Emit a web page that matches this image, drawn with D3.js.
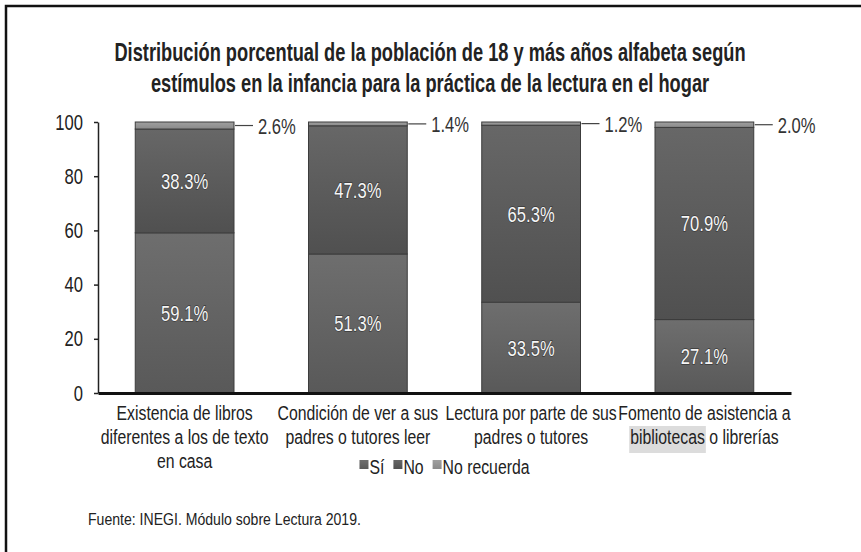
<!DOCTYPE html>
<html>
<head>
<meta charset="utf-8">
<script src="https://cdn.jsdelivr.net/npm/d3@7"></script>
<style>
  body { margin: 0; background: #fff; }
  svg text { font-family: "Liberation Sans", Arial, sans-serif; }
</style>
</head>
<body>
<div id="chart"></div>
<script>
const categories = [
  ["Existencia de libros", "diferentes a los de texto", "en casa"],
  ["Condición de ver a sus", "padres o tutores leer"],
  ["Lectura por parte de sus", "padres o tutores"],
  ["Fomento de asistencia a", "bibliotecas o librerías"]
];
const seriesNames = ["Sí", "No", "No recuerda"];
const si = [59.1, 51.3, 33.5, 27.1];
const no = [38.3, 47.3, 65.3, 70.9];
const noRecuerda = [2.6, 1.4, 1.2, 2.0];
const yTicks = [0, 20, 40, 60, 80, 100];
const title = [
  "Distribución porcentual de la población de 18 y más años alfabeta según",
  "estímulos en la infancia para la práctica de la lectura en el hogar"
];
const source = "Fuente: INEGI. Módulo sobre Lectura 2019.";

const width = 861, height = 552;
const margin = { left: 98, right: 70, top: 122, bottom: 159 };
const NARROW = 0.79; // no condensed font installed, squeeze Liberation Sans

// place a text at (x, y) squeezed horizontally
function narrowAt(sel, x, y, s) {
  return sel.attr("transform", function (d, i) {
    let xx = typeof x === "function" ? x(d, i) : x;
    let yy = typeof y === "function" ? y(d, i) : y;
    return "translate(" + xx + "," + yy + ") scale(" + (s || NARROW) + ",1.05)";
  });
}

let svg = d3.select("#chart").append("svg")
  .attr("width", width)
  .attr("height", height);

// gradients, one per series
const grads = [
  ["#6e6e6e", "#595959"],
  ["#676767", "#505050"],
  ["#a0a0a0", "#8a8a8a"]
];
let defs = svg.append("defs");
grads.forEach(function (g, i) {
  let lg = defs.append("linearGradient")
    .attr("id", "grad" + i)
    .attr("x1", 0).attr("y1", 0).attr("x2", 0).attr("y2", 1);
  lg.append("stop").attr("offset", "0%").attr("stop-color", g[0]);
  lg.append("stop").attr("offset", "100%").attr("stop-color", g[1]);
});

// frame
svg.append("rect")
  .attr("x", 6).attr("y", 6)
  .attr("width", 900).attr("height", 600)
  .attr("fill", "none")
  .attr("stroke", "#111")
  .attr("stroke-width", 2.5);

// title
svg.append("g").selectAll("text")
  .data(title)
  .join("text")
  .call(narrowAt, 430, (d, i) => 61 + i * 31, 0.76)
  .attr("text-anchor", "middle")
  .attr("font-size", "24px")
  .attr("font-weight", "bold")
  .attr("fill", "#222")
  .text(d => d);

let x = d3.scaleBand()
  .domain(d3.range(categories.length))
  .range([margin.left, width - margin.right])
  .paddingInner(0.43)
  .paddingOuter(0.215);

let y = d3.scaleLinear()
  .domain([0, 100])
  .range([height - margin.bottom, margin.top]);

let rows = categories.map(function (c, i) {
  return { i: i, "Sí": si[i], "No": no[i], "No recuerda": noRecuerda[i] };
});
let stacked = d3.stack().keys(seriesNames)(rows);

// bars
let layers = svg.append("g")
  .selectAll("g")
  .data(stacked)
  .join("g")
  .attr("fill", (d, i) => "url(#grad" + i + ")");

layers.selectAll("rect")
  .data(d => d)
  .join("rect")
  .attr("x", d => x(d.data.i))
  .attr("y", d => y(d[1]))
  .attr("width", x.bandwidth())
  .attr("height", d => y(d[0]) - y(d[1]))
  .attr("stroke", "#3c3c3c")
  .attr("stroke-width", 1);

// inner labels (Sí, No)
stacked.slice(0, 2).forEach(function (layer) {
  svg.append("g")
    .selectAll("text")
    .data(layer)
    .join("text")
    .call(narrowAt, d => x(d.data.i) + x.bandwidth() / 2, d => y((d[0] + d[1]) / 2) + 8)
    .attr("text-anchor", "middle")
    .attr("font-size", "21px")
    .attr("fill", "#f6f6f6")
    .attr("style", "paint-order: stroke; stroke: #3a3a3a; stroke-width: 1.2px;")
    .text(d => (d[1] - d[0]).toFixed(1) + "%");
});

// outer labels (No recuerda) with leader line
let topLabels = svg.append("g")
  .selectAll("g")
  .data(stacked[2])
  .join("g");
topLabels.append("line")
  .attr("x1", d => x(d.data.i) + x.bandwidth() + 1)
  .attr("x2", d => x(d.data.i) + x.bandwidth() + 19)
  .attr("y1", d => y((d[0] + d[1]) / 2))
  .attr("y2", d => y((d[0] + d[1]) / 2))
  .attr("stroke", "#444")
  .attr("stroke-width", 1.2);
topLabels.append("text")
  .call(narrowAt, d => x(d.data.i) + x.bandwidth() + 24, d => y((d[0] + d[1]) / 2) + 8)
  .attr("font-size", "21px")
  .attr("fill", "#333")
  .text(d => (d[1] - d[0]).toFixed(1) + "%");

// y axis
let yAxis = svg.append("g")
  .attr("transform", "translate(" + margin.left + ",0)")
  .call(d3.axisLeft(y).tickValues(yTicks).tickSizeInner(4).tickSizeOuter(0).tickPadding(11));
yAxis.select(".domain").attr("stroke", "#222").attr("stroke-width", 1.5);
yAxis.selectAll(".tick line").attr("stroke", "#222").attr("stroke-width", 1.5);
yAxis.selectAll(".tick text")
  .attr("font-size", "21px")
  .attr("font-family", null)
  .attr("fill", "#222")
  .attr("x", -15 / NARROW)
  .attr("transform", "scale(" + NARROW + ",1.05)");

// x axis
let xAxis = svg.append("g")
  .attr("transform", "translate(0," + y(0) + ")")
  .call(d3.axisBottom(x).tickSize(0).tickFormat(""));
xAxis.select(".domain").attr("stroke", "#111").attr("stroke-width", 3);

// category labels
let catG = svg.append("g");
categories.forEach(function (lines, i) {
  let cx = x(i) + x.bandwidth() / 2;
  lines.forEach(function (line, j) {
    let ly = 420 + j * 24;
    let t = catG.append("text")
      .call(narrowAt, cx, ly)
      .attr("text-anchor", "middle")
      .attr("font-size", "20px")
      .attr("fill", "#222")
      .text(line);
    // highlighted word from the original screenshot
    if (line.indexOf("bibliotecas") === 0) {
      let full = t.node().getComputedTextLength() * NARROW;
      let tmp = catG.append("text").attr("font-size", "20px").text("bibliotecas");
      let w = tmp.node().getComputedTextLength() * NARROW;
      tmp.remove();
      catG.insert("rect", "text")
        .attr("x", cx - full / 2 - 1)
        .attr("y", ly - 18)
        .attr("width", w + 2)
        .attr("height", 27)
        .attr("fill", "#dcdcdc");
    }
  });
});

// legend
let legend = svg.append("g");
let lx = 0;
seriesNames.forEach(function (name, i) {
  let item = legend.append("g").attr("transform", "translate(" + lx + ",0)");
  item.append("rect")
    .attr("x", 0).attr("y", -14)
    .attr("width", 9).attr("height", 9)
    .attr("fill", "url(#grad" + i + ")");
  let t = item.append("text")
    .call(narrowAt, 10, 0)
    .attr("font-size", "20px")
    .attr("fill", "#222")
    .text(name);
  lx += 10 + t.node().getComputedTextLength() * NARROW + 9;
});
let lw = lx - 9;
legend.attr("transform", "translate(" + ((margin.left + width - margin.right) / 2 - lw / 2) + ",474)");

// source
svg.append("text")
  .call(narrowAt, 88, 525, 0.88)
  .attr("font-size", "16px")
  .attr("fill", "#222")
  .text(source);
</script>
</body>
</html>
